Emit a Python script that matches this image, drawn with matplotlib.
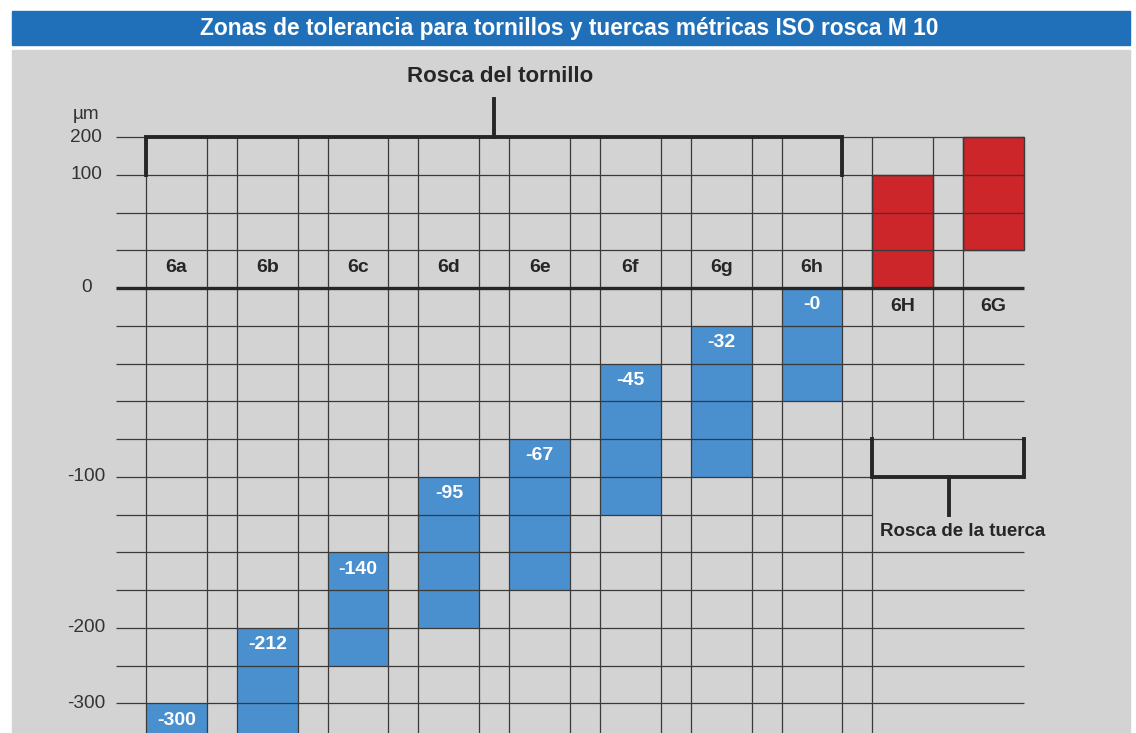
import matplotlib.pyplot as plt
from matplotlib.patches import Rectangle

plt.rcParams['font.family'] = ['Liberation Sans', 'DejaVu Sans']

# datos
categorias = ['6a', '6b', '6c', '6d', '6e', '6f', '6g', '6h', '6H', '6G']
etiquetas = ['-300', '-212', '-140', '-95', '-67', '-45', '-32', '-0', '', '']
# filas de la rejilla (1 fila = un escalon del diagrama)
fila_sup = [-11, -9, -7, -5, -4, -2, -1, 0, 3, 4]
fila_inf = [-12, -12, -10, -9, -8, -6, -5, -3, 0, 1]
tipo = ['tornillo'] * 8 + ['tuerca'] * 2
ticks_filas = [4, 3, 0, -5, -9, -11]
ticks_texto = ['200', '100', '0', '-100', '-200', '-300']
filas = list(range(4, -12, -1))

titulo = 'Zonas de tolerancia para tornillos y tuercas métricas ISO rosca M 10'

AZUL_T = '#2070b9'
AZUL = '#4a8fce'
ROJO = '#cc252a'
GRIS = '#d3d3d3'
LINEA = '#3a3a3a'
OSCURO = '#262626'

W = 0.67   # ancho de columna
G = 0.33   # hueco

fig = plt.figure(figsize=(11.36, 7.33), dpi=100)
fig.patches.append(Rectangle((12 / 1136, 1 - 45 / 733), 1118 / 1136, 34 / 733,
                             transform=fig.transFigure, color=AZUL_T, zorder=-10))
fig.patches.append(Rectangle((12 / 1136, 0), 1118 / 1136, 1 - 50 / 733,
                             transform=fig.transFigure, color=GRIS, zorder=-10))
fig.text(569 / 1136, 1 - 28 / 733, titulo, color='white', fontsize=16.4,
         fontweight='bold', ha='center', va='center')

ax = fig.add_axes([0, 0, 1, 1])
ax.set_xlim(-146 / 90.8, (1136 - 146) / 90.8)
ax.set_ylim(-(733 - 288) / 37.75, 288 / 37.75)
ax.axis('off')
ax.patch.set_alpha(0)

# barras
for i, cat in enumerate(categorias):
    alto = fila_sup[i] - fila_inf[i]
    if tipo[i] == 'tornillo':
        ax.bar(i, alto, bottom=fila_inf[i], width=W, align='edge', color=AZUL,
               zorder=1)
        ax.text(i + W / 2, fila_sup[i] - 0.45, etiquetas[i], color='white',
                fontsize=14, fontweight='bold', ha='center', va='center', zorder=5)
        ax.text(i + W / 2, 0.55, cat, color=OSCURO, fontsize=14,
                fontweight='bold', ha='center', va='center')
    else:
        ax.bar(i, alto, bottom=fila_inf[i], width=W, align='edge', color=ROJO,
               edgecolor=LINEA, linewidth=1, zorder=1)
        ax.text(i + W / 2, -0.5, cat, color=OSCURO, fontsize=14,
                fontweight='bold', ha='center', va='center')

# rejilla horizontal
x_fin = len(categorias) - 1 + W
for r in filas:
    if r == 0:
        continue
    fin = 8 if r in (-5, -6) else x_fin
    ax.hlines(r, -G, fin, color=LINEA, lw=0.9, zorder=2)
ax.hlines(0, -G, x_fin, color=OSCURO, lw=2.4, zorder=3)

# rejilla vertical
for i in range(len(categorias)):
    for x in (i, i + W):
        if x <= 8:
            ax.vlines(x, ax.get_ylim()[0], 4, color=LINEA, lw=0.9, zorder=2)
        elif x < x_fin:
            ax.vlines(x, -4, 4, color=LINEA, lw=0.9, zorder=2)

# etiquetas eje
for r, t in zip(ticks_filas, ticks_texto):
    ax.text(-0.66, r, t, color='#333333', fontsize=13.7, ha='center', va='center')
ax.text(-0.66, 4.6, 'µm', color='#333333', fontsize=13.7, ha='center', va='center')

# llaves
ax.plot([0, 0, 7 + W, 7 + W], [3, 4, 4, 3], color=OSCURO, lw=2.8,
        solid_joinstyle='miter', zorder=4)
ax.plot([3.83, 3.83], [4, 5], color=OSCURO, lw=2.8, zorder=4)
ax.text(3.9, 5.6, 'Rosca del tornillo', color=OSCURO, fontsize=16,
        fontweight='bold', ha='center', va='center')

ax.plot([8, 8, x_fin, x_fin], [-4, -5, -5, -4], color=OSCURO, lw=2.8,
        solid_joinstyle='miter', zorder=4)
ax.plot([8.84, 8.84], [-5, -6], color=OSCURO, lw=2.8, zorder=4)
ax.text(8.08, -6.44, 'Rosca de la tuerca', color=OSCURO, fontsize=13.5,
        fontweight='bold', ha='left', va='center')

fig.savefig('out.png', dpi=100)
